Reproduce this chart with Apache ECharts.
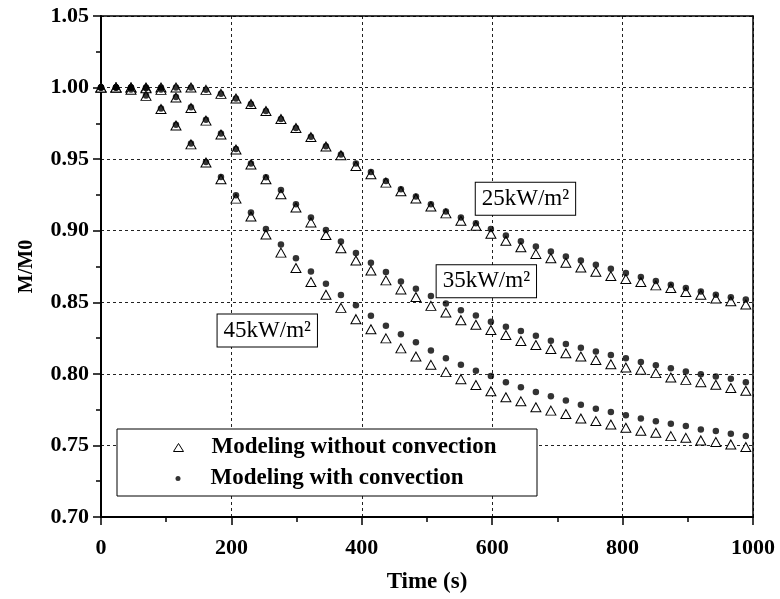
<!DOCTYPE html>
<html>
<head>
<meta charset="utf-8">
<script src="https://cdn.jsdelivr.net/npm/echarts@6/dist/echarts.min.js"></script>
<style>html,body{margin:0;padding:0;background:#fff}#c{width:780px;height:599px}</style>
</head>
<body>
<div id="c"></div>
<script>
// Time (s)
const times = [0,23,46,69,92,115,138,161,184,207,230,253,276,299,322,345,368,391,414,437,460,483,506,529,552,575,598,621,644,667,690,713,736,759,782,805,828,851,874,897,920,943,966,989];

// 25 kW/m2
const noConv25 = [1,1,1,1,1,1,1,0.9984,0.9956,0.9924,0.9885,0.9836,0.978,0.9718,0.9654,0.9588,0.9527,0.9452,0.9394,0.9336,0.9276,0.9225,0.9169,0.9121,0.907,0.9035,0.8979,0.893,0.8885,0.8838,0.8808,0.8776,0.8743,0.8713,0.8683,0.8662,0.8642,0.8618,0.86,0.8572,0.8553,0.8526,0.8507,0.8484];
const conv25 = [1,1,1,1,1,1,1,0.9984,0.9956,0.9924,0.9885,0.9836,0.978,0.9718,0.9656,0.959,0.9533,0.947,0.941,0.9347,0.929,0.9239,0.9185,0.9135,0.9093,0.9053,0.9012,0.8966,0.8927,0.8889,0.8854,0.8819,0.8792,0.8762,0.8734,0.8704,0.8676,0.8648,0.8623,0.86,0.8576,0.8553,0.8535,0.8519];

// 35 kW/m2
const noConv35 = [1,1,1,0.9995,0.9984,0.993,0.9857,0.9769,0.9672,0.9567,0.9463,0.9359,0.9255,0.9162,0.9058,0.897,0.8878,0.8792,0.8722,0.8653,0.859,0.8537,0.8475,0.8428,0.8375,0.8343,0.8306,0.8271,0.8229,0.8201,0.8174,0.8144,0.8121,0.8097,0.8067,0.8044,0.8028,0.8005,0.7975,0.7958,0.7942,0.7924,0.7901,0.7882];
const conv35 = [1,1,1,0.9996,0.9986,0.9935,0.9862,0.9775,0.968,0.957,0.947,0.9373,0.9285,0.9185,0.9093,0.9005,0.8924,0.8845,0.8776,0.8711,0.8646,0.8595,0.8544,0.8491,0.8444,0.8408,0.8364,0.8329,0.8299,0.8267,0.8232,0.8208,0.8183,0.8156,0.8132,0.8109,0.8083,0.806,0.804,0.8017,0.7998,0.7982,0.7965,0.7942];

// 45 kW/m2
const noConv45 = [1,1,0.9985,0.9942,0.985,0.9735,0.9603,0.9476,0.936,0.9224,0.9099,0.8974,0.8847,0.8739,0.8642,0.8553,0.8461,0.8382,0.8312,0.8248,0.8178,0.8121,0.8063,0.8012,0.7963,0.7922,0.7878,0.7836,0.7808,0.7767,0.7743,0.772,0.7688,0.767,0.7646,0.7623,0.7602,0.7588,0.7565,0.7553,0.7535,0.7524,0.7507,0.7489];
const conv45 = [1,1,0.9986,0.9944,0.9853,0.974,0.961,0.948,0.9375,0.9247,0.9128,0.9012,0.8903,0.8808,0.8715,0.863,0.8551,0.8479,0.8406,0.8336,0.8276,0.822,0.8163,0.8109,0.8063,0.8021,0.7985,0.7942,0.7906,0.7873,0.7843,0.7813,0.7785,0.7757,0.7734,0.7711,0.7688,0.7669,0.7651,0.7635,0.7611,0.76,0.7581,0.7565];

// Annotation labels: [text, time, M/M0]
const annotations = [['25kW/m²', 651, 0.9224], ['35kW/m²', 591, 0.8647], ['45kW/m²', 255, 0.8303]];

const nameNo = 'Modeling without convection';
const nameYes = 'Modeling with convection';

const FONT = 'Liberation Serif';
const zip = (a) => times.map((t, i) => [t, a[i]]);

function triSeries(arr, withMarks) {
  const s = {
    type: 'scatter', name: nameNo, data: zip(arr), symbol: 'triangle', symbolSize: [10, 9],
    itemStyle: { color: '#fff', borderColor: '#000', borderWidth: 1, opacity: 1 }, z: 2
  };
  if (withMarks) {
    s.markPoint = {
      symbol: 'rect', symbolSize: 1, itemStyle: { color: 'rgba(0,0,0,0)' }, z: 5,
      label: {
        show: true, position: 'inside', formatter: '{b}', fontFamily: FONT, fontSize: 23,
        color: '#000', backgroundColor: '#fff', borderColor: '#000', borderWidth: 1,
        padding: [5, 6, 4, 6]
      },
      data: annotations.map(a => ({ name: a[0], coord: [a[1], a[2]] }))
    };
  }
  return s;
}
function dotSeries(arr) {
  return { type: 'scatter', name: nameYes, data: zip(arr), symbol: 'circle', symbolSize: 6.5,
    itemStyle: { color: '#000' }, z: 3 };
}

const chart = echarts.init(document.getElementById('c'), null, { renderer: 'canvas' });
const axisCommon = {
  axisLine: { show: true, onZero: false, lineStyle: { color: '#000', width: 2 } },
  axisTick: { show: true, inside: false, length: 8, lineStyle: { color: '#000', width: 1.5 } },
  minorTick: { show: true, splitNumber: 2, length: 5, lineStyle: { color: '#000', width: 1.5 } },
  splitLine: { show: true, lineStyle: { color: '#222', width: 1, type: [3, 3] } },
  nameTextStyle: { fontFamily: FONT, fontWeight: 'bold', fontSize: 23, color: '#000' },
  axisLabel: { fontFamily: FONT, fontWeight: 'bold', fontSize: 22, color: '#000' }
};
const frameAxis = {
  axisLine: { show: true, onZero: false, lineStyle: { color: '#000', width: 1.5 } },
  axisTick: { show: false }, axisLabel: { show: false }, splitLine: { show: false }
};

chart.setOption({
  animation: false,
  backgroundColor: '#fff',
  grid: { left: 101, right: 27, top: 16, bottom: 79, containLabel: false },
  xAxis: [
    Object.assign({}, axisCommon, {
      type: 'value', min: 0, max: 1000, interval: 200, position: 'bottom',
      name: 'Time (s)', nameLocation: 'middle', nameGap: 54,
      axisLabel: Object.assign({}, axisCommon.axisLabel, { margin: 20, formatter: v => String(v) })
    }),
    Object.assign({}, frameAxis, { type: 'value', min: 0, max: 1000, position: 'top' })
  ],
  yAxis: [
    Object.assign({}, axisCommon, {
      type: 'value', min: 0.70, max: 1.05, interval: 0.05, position: 'left',
      name: 'M/M0', nameLocation: 'middle', nameGap: 64, nameRotate: 90,
      nameTextStyle: Object.assign({}, axisCommon.nameTextStyle, { fontSize: 20 }),
      axisLabel: Object.assign({}, axisCommon.axisLabel, { margin: 12, formatter: v => v.toFixed(2) })
    }),
    Object.assign({}, frameAxis, { type: 'value', min: 0.70, max: 1.05, position: 'right' })
  ],
  graphic: [{
    type: 'rect', z: 10, shape: { x: 117, y: 429, width: 420, height: 67 },
    style: { fill: '#fff', stroke: '#000', lineWidth: 1 }
  }],
  legend: [
    {
      z: 20, left: 173, top: 436, padding: 0, itemWidth: 10, itemHeight: 8,
      data: [{ name: nameNo, icon: 'triangle', itemStyle: { color: '#fff', borderColor: '#000', borderWidth: 1 } }],
      textStyle: { fontFamily: FONT, fontWeight: 'bold', fontSize: 23, color: '#000', padding: [0, 0, 0, 23] },
      selectedMode: false
    },
    {
      z: 20, left: 175.5, top: 467, padding: 0, itemWidth: 5, itemHeight: 5,
      data: [{ name: nameYes, icon: 'circle', itemStyle: { color: '#000' } }],
      textStyle: { fontFamily: FONT, fontWeight: 'bold', fontSize: 23, color: '#000', padding: [0, 0, 0, 25] },
      selectedMode: false
    }
  ],
  series: [
    triSeries(noConv25, true), triSeries(noConv35, false), triSeries(noConv45, false),
    dotSeries(conv25), dotSeries(conv35), dotSeries(conv45)
  ]
});
</script>
</body>
</html>
